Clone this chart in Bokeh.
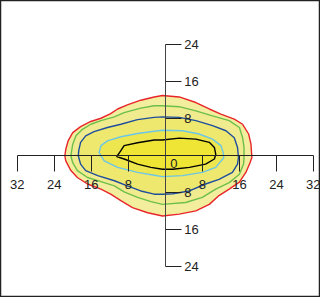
from bokeh.plotting import figure
from bokeh.models import LinearAxis, FixedTicker, CustomJSTickFormatter, Range1d
from bokeh.core.properties import value
from bokeh.embed import file_html
from bokeh.resources import INLINE

# contour levels (outer to inner) (data units)
red_x = [-21.7, -21.5, -21.0, -20.0, -18.3, -16.1, -13.9, -11.8, -10.3, -8.2, -5.3, -2.4, -0.6,
         3.0, 6.6, 9.5, 12.0, 14.9, 16.7, 18.0, 18.5, 18.7,
         18.3, 17.4, 16.0, 13.8, 11.6, 9.5, 6.6, 3.0, -0.6,
         -3.8, -7.1, -9.6, -11.8, -13.9, -16.8, -19.0, -20.4, -21.5]
red_y = [-0.1, 1.3, 3.1, 4.9, 6.2, 7.3, 8.0, 9.0, 10.0, 10.9, 11.9, 12.6, 12.9,
         12.6, 11.4, 10.0, 8.9, 7.8, 6.7, 4.6, 2.4, -0.5,
         -1.6, -3.7, -5.8, -7.3, -8.7, -10.6, -12.0, -12.7, -13.1,
         -12.4, -11.3, -9.8, -8.4, -7.3, -6.2, -4.8, -3.3, -1.2]

green_x = [-20.4, -20.0, -19.3, -17.9, -16.1, -13.9, -11.0, -8.9, -5.3, -2.4, -0.6,
           3.0, 6.6, 10.2, 13.8, 16.0, 16.7, 17.0, 17.0,
           16.9, 16.0, 13.8, 10.9, 8.0, 4.4, -0.6,
           -3.1, -6.0, -8.9, -11.0, -13.9, -16.8, -19.0, -20.0]
green_y = [-0.1, 2.4, 4.2, 5.6, 6.7, 7.5, 8.3, 9.2, 10.2, 10.7, 10.7,
           10.5, 9.6, 8.5, 7.5, 6.0, 3.8, 1.7, -0.5,
           -1.9, -4.1, -5.9, -7.3, -9.1, -10.2, -10.6,
           -10.0, -9.1, -7.9, -6.6, -5.7, -4.8, -3.3, -1.6]

blue_x = [-18.8, -18.7, -18.3, -17.2, -15.4, -12.5, -9.6, -6.0, -2.4, -0.6,
          3.0, 6.6, 10.2, 13.1, 14.9, 15.6, 15.8,
          15.6, 14.5, 11.6, 8.7, 5.2, 1.6, -0.6,
          -2.4, -5.3, -8.2, -11.0, -14.6, -17.2, -18.3]
blue_y = [-0.1, 1.0, 2.8, 4.2, 5.1, 6.0, 6.7, 7.7, 8.2, 8.3,
          8.2, 7.5, 6.4, 5.3, 3.8, 1.7, -0.5,
          -1.9, -3.7, -5.2, -6.2, -7.7, -8.3, -8.4,
          -8.4, -7.7, -6.6, -5.5, -4.4, -3.3, -1.9]

cyan_x = [-14.3, -13.9, -12.5, -9.6, -6.0, -2.4, -0.6,
          3.7, 7.3, 10.2, 12.0, 12.5, 12.6,
          12.4, 10.9, 8.0, 3.7, -0.6,
          -2.4, -6.0, -10.3, -13.2]
cyan_y = [0.6, 2.1, 3.1, 4.0, 4.7, 5.2, 5.4,
          5.3, 4.6, 3.5, 2.1, 0.6, -0.5,
          -0.8, -2.6, -3.7, -4.4, -4.6,
          -4.3, -3.7, -2.6, -1.2]

black_x = [-10.5, -9.6, -8.9, -6.0, -2.4, -0.6,
           3.0, 6.6, 9.5, 10.6, 10.9,
           10.6, 8.7, 5.2, 1.6, -0.6,
           -3.1, -6.0, -8.9]
black_y = [-0.3, 1.0, 2.1, 2.7, 3.3, 3.3,
           3.7, 3.5, 2.8, 1.7, 0.2,
           -0.8, -1.9, -2.6, -3.0, -3.0,
           -2.6, -1.9, -0.8]

x_ticks = [-32, -24, -16, -8, 0, 8, 16, 24, 32]
y_ticks = [-24, -16, -8, 0, 8, 16, 24]

levels = [
    (red_x, red_y, "#E8262A", "#F2EE9E"),
    (green_x, green_y, "#6CBF4A", "#F0EB8E"),
    (blue_x, blue_y, "#1F4E9C", "#EEE86E"),
    (cyan_x, cyan_y, "#6EC6E6", "#EDE64E"),
    (black_x, black_y, "#000000", "#EEE535"),
]

p = figure(width=320, height=297, output_backend="svg", toolbar_location=None,
           x_range=Range1d(-35.6, 33.52), y_range=Range1d(-30.71, 33.43),
           x_axis_location=None, y_axis_location=None, min_border=0)
p.grid.grid_line_color = None
p.outline_line_color = "#222222"
p.outline_line_width = 1.5
p.background_fill_color = "white"

for xs, ys, lc, fc in levels:
    p.patch(xs + [xs[0]], ys + [ys[0]], fill_color=fc, line_color=lc, line_width=1.4)

fmt = CustomJSTickFormatter(code="return tick == 0 ? '' : String(Math.abs(tick));")
font = "Liberation Sans"

xa = LinearAxis(fixed_location=0, ticker=FixedTicker(ticks=x_ticks), formatter=fmt,
                bounds=(-32, 32))
xa.axis_line_color = "#222222"
xa.major_tick_line_color = "#222222"
xa.major_tick_out = 16
xa.major_tick_in = 0
xa.minor_tick_out = 0
xa.minor_tick_in = 0
xa.major_label_standoff = 9
xa.major_label_text_font = font
xa.major_label_text_font_size = "13px"
xa.major_label_text_color = "#222222"
p.add_layout(xa, "below")

ya = LinearAxis(fixed_location=0, ticker=FixedTicker(ticks=y_ticks), formatter=fmt,
                bounds=(-24, 24))
ya.axis_line_color = "#444444"
ya.major_tick_line_color = "#222222"
ya.major_tick_out = 16
ya.major_tick_in = 0
ya.minor_tick_out = 0
ya.minor_tick_in = 0
ya.major_label_standoff = 3
ya.major_label_text_font = font
ya.major_label_text_font_size = "13px"
ya.major_label_text_color = "#222222"
p.add_layout(ya, "right")

p.text(x=[0], y=[0], text=["0"], x_offset=5, y_offset=4,
       text_font=value(font), text_font_size="13px", text_color="#222222",
       text_align="left", text_baseline="top")

open("out.html", "w").write(file_html(p, INLINE))
